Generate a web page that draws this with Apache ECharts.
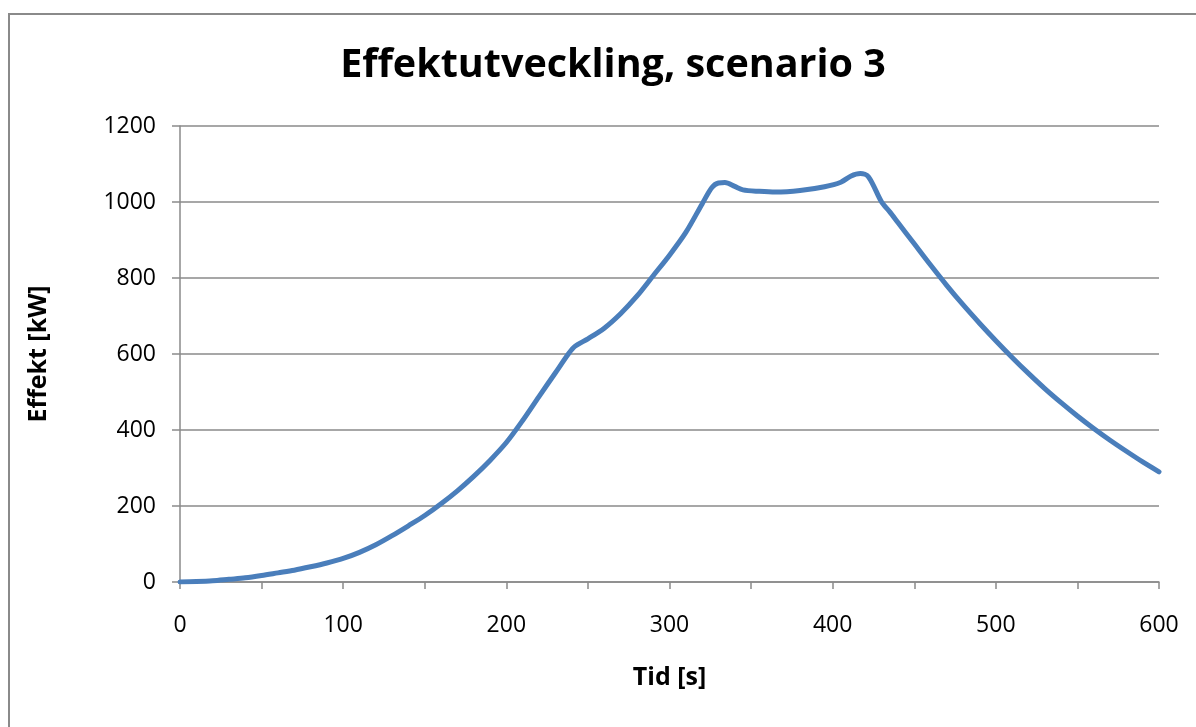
<!DOCTYPE html>
<html>
<head>
<meta charset="utf-8">
<script src="https://cdn.jsdelivr.net/npm/echarts@6/dist/echarts.min.js"></script>
<style>
  html, body { margin: 0; padding: 0; background: #fff; }
  #chart { width: 1196px; height: 727px; }
</style>
</head>
<body>
<div id="chart"></div>
<script>
// Time axis samples [s]
const tid = [0, 10, 20, 30, 40, 50, 60, 70, 80, 90, 100, 110, 120, 130, 140, 150, 160, 170, 180, 190,
  200, 210, 220, 230, 238, 242, 250, 260, 270, 280, 290, 300, 310, 320, 326, 330, 334, 340, 345, 355, 365,
  380, 395, 405, 411, 417, 422, 430, 435, 440, 450, 460, 470, 480, 490, 500, 510, 520, 530, 540, 550,
  560, 570, 580, 590, 600];
// Power [kW]
const effekt = [0, 1, 3, 7, 11, 17, 24, 31, 40, 50, 62, 78, 98, 122, 148, 175, 206, 240, 278, 320,
  367, 425, 488, 550, 600, 620, 640, 668, 706, 752, 806, 860, 920, 995, 1038, 1050, 1051, 1041, 1032, 1028, 1026,
  1030, 1040, 1052, 1068, 1075, 1066, 1000, 974, 946, 890, 834, 780, 729, 681, 635, 591, 549, 509, 472, 437,
  404, 373, 344, 316, 290];

const yTicks = { min: 0, max: 1200, step: 200 };
const xTicks = { min: 0, max: 600, step: 100 };

const chart = echarts.init(document.getElementById('chart'), null, { renderer: 'canvas' });
const gray = '#8a8a8a';
const font = '"Open Sans", "Noto Sans", sans-serif';

chart.setOption({
  animation: false,
  backgroundColor: '#fff',
  title: {
    text: 'Effektutveckling, scenario 3',
    left: 608, top: 41, textAlign: 'center',
    textStyle: { fontFamily: font, fontWeight: 'bold', fontSize: 39.5, color: '#000' }
  },
  graphic: [{
    type: 'rect', silent: true, z: -1,
    shape: { x: 9, y: 14, width: 1300, height: 900 },
    style: { fill: 'none', stroke: '#8a8a8a', lineWidth: 2 }
  }],
  grid: { left: 180, right: 37, top: 126, bottom: 145 },
  xAxis: {
    type: 'value', min: xTicks.min, max: xTicks.max, interval: xTicks.step,
    name: 'Tid [s]', nameLocation: 'middle', nameGap: 83,
    nameTextStyle: { fontFamily: font, fontWeight: 'bold', fontSize: 25, color: '#000' },
    axisLine: { show: true, lineStyle: { color: gray, width: 1.5 } },
    axisTick: { show: true, length: 7, lineStyle: { color: gray, width: 1.5 } },
    minorTick: { show: true, splitNumber: 2, length: 7, lineStyle: { color: gray, width: 1.5 } },
    axisLabel: { fontFamily: font, fontSize: 23, color: '#000', margin: 32, formatter: v => String(v) },
    splitLine: { show: false }
  },
  yAxis: {
    type: 'value', min: yTicks.min, max: yTicks.max, interval: yTicks.step,
    name: 'Effekt [kW]', nameLocation: 'middle', nameGap: 129, nameRotate: 90,
    nameTextStyle: { fontFamily: font, fontWeight: 'bold', fontSize: 25, color: '#000' },
    axisLine: { show: true, lineStyle: { color: gray, width: 1.5 } },
    axisTick: { show: true, length: 8, lineStyle: { color: gray, width: 1.5 } },
    axisLabel: { fontFamily: font, fontSize: 23, color: '#000', margin: 24, formatter: v => String(v) },
    splitLine: { show: true, lineStyle: { color: gray, width: 1.5 } }
  },
  series: [{
    type: 'line',
    data: tid.map((t, i) => [t, effekt[i]]),
    smooth: 0.3,
    showSymbol: false,
    lineStyle: { color: '#4a7ebb', width: 5, cap: 'round', join: 'round' }
  }]
});
</script>
</body>
</html>
